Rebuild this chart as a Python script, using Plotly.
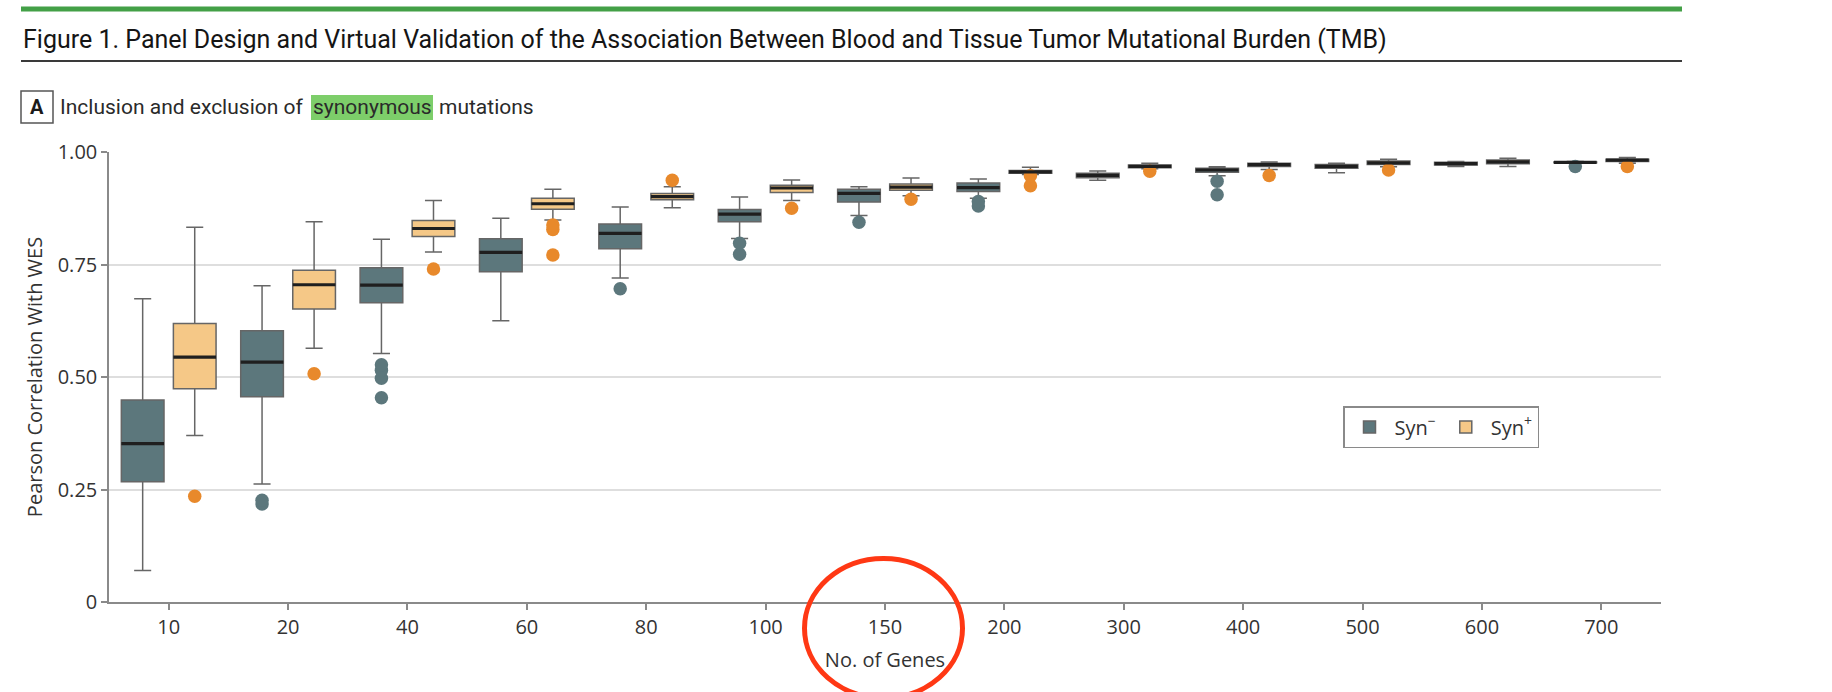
import plotly.graph_objects as go

# ---------------- data ----------------
genes = ["10", "20", "40", "60", "80", "100", "150", "200", "300", "400", "500", "600", "700"]

# Syn- (synonymous mutations excluded)
neg_lower = [0.070, 0.262, 0.552, 0.625, 0.720, 0.808, 0.859, 0.897, 0.937, 0.947, 0.954, 0.968, 0.975]
neg_q1 = [0.267, 0.456, 0.665, 0.734, 0.785, 0.845, 0.889, 0.912, 0.943, 0.955, 0.964, 0.971, 0.976]
neg_median = [0.352, 0.533, 0.704, 0.777, 0.819, 0.862, 0.908, 0.921, 0.948, 0.960, 0.968, 0.974, 0.977]
neg_q3 = [0.449, 0.603, 0.743, 0.807, 0.840, 0.872, 0.917, 0.931, 0.953, 0.964, 0.972, 0.977, 0.978]
neg_upper = [0.674, 0.703, 0.806, 0.853, 0.878, 0.900, 0.923, 0.940, 0.958, 0.967, 0.975, 0.979, 0.979]
neg_outliers = [[], [0.226, 0.218], [0.527, 0.515, 0.497, 0.454], [], [0.696], [0.797, 0.773],
                [0.844], [0.890, 0.880], [], [0.935, 0.905], [], [], [0.968]]

# Syn+ (synonymous mutations included)
pos_lower = [0.370, 0.564, 0.778, 0.849, 0.876, 0.892, 0.903, 0.950, 0.963, 0.961, 0.967, 0.968, 0.975]
pos_q1 = [0.474, 0.651, 0.812, 0.873, 0.894, 0.910, 0.915, 0.953, 0.965, 0.968, 0.972, 0.974, 0.979]
pos_median = [0.544, 0.705, 0.830, 0.885, 0.901, 0.920, 0.922, 0.956, 0.968, 0.972, 0.976, 0.978, 0.982]
pos_q3 = [0.619, 0.737, 0.848, 0.897, 0.908, 0.926, 0.929, 0.959, 0.971, 0.975, 0.980, 0.982, 0.984]
pos_upper = [0.833, 0.845, 0.892, 0.917, 0.923, 0.938, 0.942, 0.966, 0.975, 0.978, 0.984, 0.986, 0.988]
pos_outliers = [[0.235], [0.507], [0.740], [0.838, 0.828, 0.771], [0.937], [0.875], [0.895],
                [0.947, 0.925], [0.957], [0.948], [0.960], [], [0.968]]

y_ticks = [0, 0.25, 0.5, 0.75, 1.0]
y_tick_labels = ["0", "0.25", "0.50", "0.75", "1.00"]

# ---------------- style ----------------
NEG_FILL = "#5c777c"
POS_FILL = "#f5c887"
NEG_PT = "#5c777c"
POS_PT = "#e8892b"
EDGE = "#666666"
TXT = "#333333"
FONT = "Open Sans, Noto Sans, sans-serif"
HEAD = "Roboto, Open Sans, sans-serif"

W_FIG, H_FIG = 1832, 692
L, R, T, B = 109, 171, 152, 90
PW, PH = W_FIG - L - R, H_FIG - T - B


def px(x):
    return (x - L) / PW


def py(y):
    return (H_FIG - B - y) / PH


fig = go.Figure()


def add_group(name, key, lower, q1, med, q3, upper, outl, fill, ptcol):
    # plotly reads the sample-point rows by the first row, so put a box that
    # has outlier points first (the category axis keeps the visual order)
    order = sorted(range(len(genes)), key=lambda i: len(outl[i]) == 0)
    pick = lambda arr: [arr[i] for i in order]
    fig.add_trace(go.Box(
        name=name, x=pick(genes), y=pick(outl), orientation="v",
        q1=pick(q1), median=pick(med), q3=pick(q3),
        lowerfence=pick(lower), upperfence=pick(upper),
        boxpoints="all", jitter=0, pointpos=0,
        marker=dict(color=ptcol, size=13.5, line=dict(width=0)),
        fillcolor=fill, line=dict(color=EDGE, width=1.5),
        whiskerwidth=0.4, offsetgroup=key, alignmentgroup="a",
        hoverinfo="y", showlegend=True,
    ))
    # thick dark median line drawn on top
    fig.add_trace(go.Box(
        name=name, x=genes, orientation="v",
        q1=med, median=med, q3=med, lowerfence=med, upperfence=med,
        boxpoints=False, fillcolor="rgba(0,0,0,0)",
        line=dict(color="#1f1f1f", width=3.2),
        whiskerwidth=0, offsetgroup=key, alignmentgroup="a",
        hoverinfo="skip", showlegend=False,
    ))


add_group("Syn<sup>−</sup>", "neg", neg_lower, neg_q1, neg_median, neg_q3, neg_upper,
          neg_outliers, NEG_FILL, NEG_PT)
add_group("Syn<sup>+</sup>", "pos", pos_lower, pos_q1, pos_median, pos_q3, pos_upper,
          pos_outliers, POS_FILL, POS_PT)

shapes = [
    # green rule at the very top
    dict(type="line", xref="paper", yref="paper", x0=px(21), x1=px(1682), y0=py(9), y1=py(9),
         line=dict(color="#43a047", width=5)),
    # dark rule under the figure title
    dict(type="line", xref="paper", yref="paper", x0=px(21), x1=px(1682), y0=py(61), y1=py(61),
         line=dict(color="#3a3a3a", width=2)),
    # panel letter box
    dict(type="rect", xref="paper", yref="paper", x0=px(21), x1=px(53), y0=py(123), y1=py(91),
         line=dict(color="#555555", width=1.5), fillcolor="white"),
    # green highlight behind "synonymous"
    dict(type="rect", xref="paper", yref="paper", x0=px(311), x1=px(433), y0=py(120), y1=py(95),
         line=dict(width=0), fillcolor="#7dce6a"),
    # red hand-drawn ellipse around the x-axis title
    dict(type="circle", xref="paper", yref="paper", x0=px(804.5), x1=px(962.5),
         y0=py(698), y1=py(558.5), line=dict(color="#ff3814", width=5), layer="above"),
]

annotations = [
    dict(text="Figure 1. Panel Design and Virtual Validation of the Association Between Blood and Tissue Tumor Mutational Burden (TMB)",
         x=px(21), y=py(39), xref="paper", yref="paper", xanchor="left", yanchor="middle",
         showarrow=False, font=dict(family=HEAD, size=25, color="#151515")),
    dict(text="<b>A</b>", x=px(37), y=py(107), xref="paper", yref="paper",
         xanchor="center", yanchor="middle", showarrow=False,
         font=dict(family=HEAD, size=20, color="#1a1a1a")),
    dict(text="Inclusion and exclusion of", x=px(306), y=py(107), xref="paper", yref="paper",
         xanchor="right", yanchor="middle", showarrow=False,
         font=dict(family=HEAD, size=21, color="#2a2a2a")),
    dict(text="synonymous", x=px(372), y=py(107), xref="paper", yref="paper",
         xanchor="center", yanchor="middle", showarrow=False,
         font=dict(family=HEAD, size=21, color="#2a2a2a")),
    dict(text="mutations", x=px(437), y=py(107), xref="paper", yref="paper",
         xanchor="left", yanchor="middle", showarrow=False,
         font=dict(family=HEAD, size=21, color="#2a2a2a")),
]

fig.update_layout(
    width=W_FIG, height=H_FIG,
    margin=dict(l=L, r=R, t=T, b=B, autoexpand=False),
    paper_bgcolor="white", plot_bgcolor="white",
    boxmode="group", boxgap=0.128, boxgroupgap=0.18,
    font=dict(family=FONT, size=20, color=TXT),
    shapes=shapes, annotations=annotations,
    legend=dict(orientation="h", x=px(1343), y=py(406), xanchor="left", yanchor="top",
                bordercolor="#8a8a8a", borderwidth=1.5, bgcolor="white",
                font=dict(family=FONT, size=20, color=TXT), itemwidth=40,
                traceorder="normal"),
    xaxis=dict(type="category", categoryorder="array", categoryarray=genes,
               range=[-0.5, len(genes) - 0.5], showgrid=False,
               showline=True, linecolor="#8a8a8a", linewidth=1.5,
               ticks="outside", ticklen=6, tickcolor="#8a8a8a", tickwidth=1.5,
               tickfont=dict(family=FONT, size=20, color=TXT),
               title=dict(text="No. of Genes", standoff=14,
                          font=dict(family=FONT, size=20, color=TXT))),
    yaxis=dict(range=[0, 1.0], tickvals=y_ticks, ticktext=y_tick_labels,
               showgrid=True, gridcolor="#dedede", gridwidth=1.5, zeroline=False,
               showline=True, linecolor="#8a8a8a", linewidth=1.5,
               ticks="outside", ticklen=6, tickcolor="#8a8a8a", tickwidth=1.5,
               tickfont=dict(family=FONT, size=20, color=TXT),
               title=dict(text="Pearson Correlation With WES", standoff=10,
                          font=dict(family=FONT, size=20, color=TXT))),
)

fig.write_html("out.html", config={"displayModeBar": False},
               post_script="document.body.style.margin='0';document.body.style.overflow='hidden';")
